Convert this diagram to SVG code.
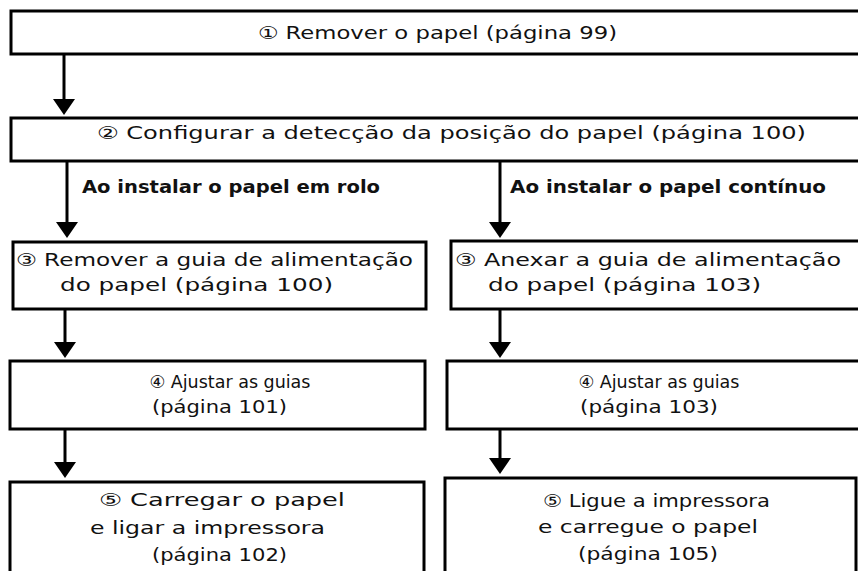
<svg xmlns="http://www.w3.org/2000/svg" width="858" height="571" viewBox="0 0 858 571">
<style>
  .box { fill: #fff; stroke: #000; stroke-width: 3; }
  .t { font-family: "DejaVu Sans", "Noto Sans", sans-serif; font-size: 17.5px; fill: #111; }
  .b { font-family: "DejaVu Sans", "Noto Sans", sans-serif; font-size: 18px; font-weight: bold; fill: #111; }
  .m { text-anchor: middle; }
  .c { stroke: #000; stroke-width: 3; fill: none; marker-end: url(#ah); }
</style>
<defs>
  <marker id="ah" viewBox="0 0 16 22" markerUnits="userSpaceOnUse" markerWidth="16" markerHeight="22" refX="0" refY="11" orient="auto">
    <path d="M0,0 L16,11 L0,22 z" fill="#000"/>
  </marker>
</defs>
<rect width="858" height="571" fill="#fff"/>
<g id="connectors">
  <line class="c" x1="64" y1="54" x2="64" y2="99"/>
  <line class="c" x1="67" y1="161" x2="67" y2="222"/>
  <line class="c" x1="500" y1="161" x2="500" y2="222"/>
  <line class="c" x1="65" y1="309" x2="65" y2="342"/>
  <line class="c" x1="500" y1="309" x2="500" y2="342"/>
  <line class="c" x1="65" y1="429" x2="65" y2="462"/>
  <line class="c" x1="500" y1="429" x2="500" y2="458"/>
</g>
<g id="step1">
  <rect class="box" x="11" y="11" width="880" height="43"/>
  <text class="t" x="258" y="38.5" textLength="359" lengthAdjust="spacingAndGlyphs">① Remover o papel (página 99)</text>
</g>
<g id="step2">
  <rect class="box" x="11" y="118" width="880" height="43"/>
  <text class="t" x="97" y="138.5" textLength="709" lengthAdjust="spacingAndGlyphs">② Configurar a detecção da posição do papel (página 100)</text>
</g>
<g id="label-rolo">
  <text class="b" x="82" y="193" textLength="298" lengthAdjust="spacingAndGlyphs">Ao instalar o papel em rolo</text>
</g>
<g id="label-continuo">
  <text class="b" x="510" y="193" textLength="316" lengthAdjust="spacingAndGlyphs">Ao instalar o papel contínuo</text>
</g>
<g id="step3-left">
  <rect class="box" x="13" y="242" width="413" height="67"/>
  <text class="t" x="16" y="266" textLength="397" lengthAdjust="spacingAndGlyphs">③ Remover a guia de alimentação</text>
  <text class="t" x="60" y="291" textLength="273" lengthAdjust="spacingAndGlyphs">do papel (página 100)</text>
</g>
<g id="step3-right">
  <rect class="box" x="451" y="241" width="440" height="68"/>
  <text class="t" x="455" y="266" textLength="386" lengthAdjust="spacingAndGlyphs">③ Anexar a guia de alimentação</text>
  <text class="t" x="488" y="291" textLength="273" lengthAdjust="spacingAndGlyphs">do papel (página 103)</text>
</g>
<g id="step4-left">
  <rect class="box" x="10" y="361" width="415" height="68"/>
  <text class="t m" x="230" y="388">④ Ajustar as guias</text>
  <text class="t" x="152" y="413" textLength="135" lengthAdjust="spacingAndGlyphs">(página 101)</text>
</g>
<g id="step4-right">
  <rect class="box" x="447" y="361" width="440" height="68"/>
  <text class="t m" x="659" y="388">④ Ajustar as guias</text>
  <text class="t" x="580" y="413" textLength="138" lengthAdjust="spacingAndGlyphs">(página 103)</text>
</g>
<g id="step5-left">
  <rect class="box" x="10" y="482" width="414" height="100"/>
  <text class="t" x="99" y="506" textLength="246" lengthAdjust="spacingAndGlyphs">⑤ Carregar o papel</text>
  <text class="t" x="90" y="534" textLength="235" lengthAdjust="spacingAndGlyphs">e ligar a impressora</text>
  <text class="t" x="152" y="561" textLength="135" lengthAdjust="spacingAndGlyphs">(página 102)</text>
</g>
<g id="step5-right">
  <rect class="box" x="445" y="478" width="411" height="100"/>
  <text class="t" x="543" y="507" textLength="227" lengthAdjust="spacingAndGlyphs">⑤ Ligue a impressora</text>
  <text class="t" x="538" y="533" textLength="220" lengthAdjust="spacingAndGlyphs">e carregue o papel</text>
  <text class="t" x="578" y="560" textLength="140" lengthAdjust="spacingAndGlyphs">(página 105)</text>
</g>
</svg>
